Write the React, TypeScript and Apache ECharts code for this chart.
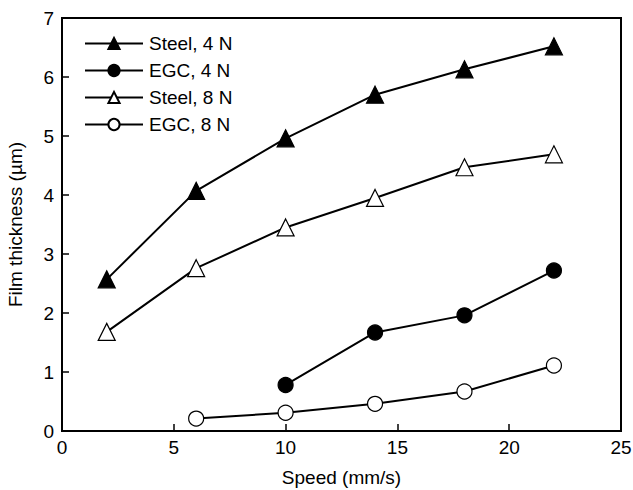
import React, { useEffect, useRef } from "react";
import * as echarts from "echarts";

const steel4X = [2, 6, 10, 14, 18, 22];
const steel4Y = [2.57, 4.07, 4.96, 5.7, 6.13, 6.52];
const egc4X = [10, 14, 18, 22];
const egc4Y = [0.78, 1.67, 1.96, 2.72];
const steel8X = [2, 6, 10, 14, 18, 22];
const steel8Y = [1.68, 2.76, 3.45, 3.95, 4.47, 4.69];
const egc8X = [6, 10, 14, 18, 22];
const egc8Y = [0.21, 0.31, 0.46, 0.67, 1.11];

const zip = (xs: number[], ys: number[]) => xs.map((x, i) => [x, ys[i]]);

export default function App() {
  const ref = useRef<HTMLDivElement>(null);
  useEffect(() => {
    const chart = echarts.init(ref.current!, null, { renderer: "svg" });
    const font = "Liberation Sans, Arial, sans-serif";
    const mk = (name: string, data: number[][], symbol: string, filled: boolean, size: number) => ({
      name,
      type: "line",
      data,
      symbol,
      symbolSize: size,
      showAllSymbol: true,
      lineStyle: { color: "#000", width: 2 },
      itemStyle: { color: filled ? "#000" : "#fff", borderColor: "#000", borderWidth: 1.2 },
      z: 3,
    });
    chart.setOption({
      animation: false,
      backgroundColor: "#fff",
      textStyle: { fontFamily: font },
      grid: {
        left: 62, right: 12, top: 18, bottom: 59,
        outerBoundsMode: "none",
        containLabel: false,
        show: true, borderColor: "#000", borderWidth: 2, backgroundColor: "transparent",
      },
      legend: {
        left: 79,
        top: 29,
        orient: "vertical",
        itemWidth: 58,
        itemHeight: 14,
        itemGap: 8,
        textStyle: { fontSize: 19, color: "#000", fontFamily: font, padding: [0, 0, 0, 1] },
        data: ["Steel, 4 N", "EGC, 4 N", "Steel, 8 N", "EGC, 8 N"],
      },
      xAxis: {
        type: "value",
        min: 0,
        max: 25,
        interval: 5,
        name: "Speed (mm/s)",
        nameLocation: "middle",
        nameGap: 37,
        nameTextStyle: { fontSize: 19, color: "#000", fontFamily: font },
        axisLine: { show: true, lineStyle: { color: "#000", width: 2 } },
        axisTick: { show: true, inside: true, length: 7, lineStyle: { color: "#000", width: 1.5 } },
        axisLabel: { fontSize: 19, color: "#000", margin: 7, fontFamily: font },
        splitLine: { show: false },
      },
      yAxis: {
        type: "value",
        min: 0,
        max: 7,
        interval: 1,
        name: "Film thickness (µm)",
        nameLocation: "middle",
        nameGap: 37,
        nameTextStyle: { fontSize: 19, color: "#000", fontFamily: font },
        axisLine: { show: true, lineStyle: { color: "#000", width: 2 } },
        axisTick: { show: true, inside: true, length: 7, lineStyle: { color: "#000", width: 1.5 } },
        axisLabel: { fontSize: 19, color: "#000", margin: 8, fontFamily: font },
        splitLine: { show: false },
      },
      series: [
        mk("Steel, 4 N", zip(steel4X, steel4Y), "triangle", true, 17),
        mk("EGC, 4 N", zip(egc4X, egc4Y), "circle", true, 15),
        mk("Steel, 8 N", zip(steel8X, steel8Y), "triangle", false, 17),
        mk("EGC, 8 N", zip(egc8X, egc8Y), "circle", false, 15),
      ],
    });
    return () => chart.dispose();
  }, []);
  return <div ref={ref} style={{ width: 633, height: 490, position: "absolute", left: 0, top: 0 }} />;
}
